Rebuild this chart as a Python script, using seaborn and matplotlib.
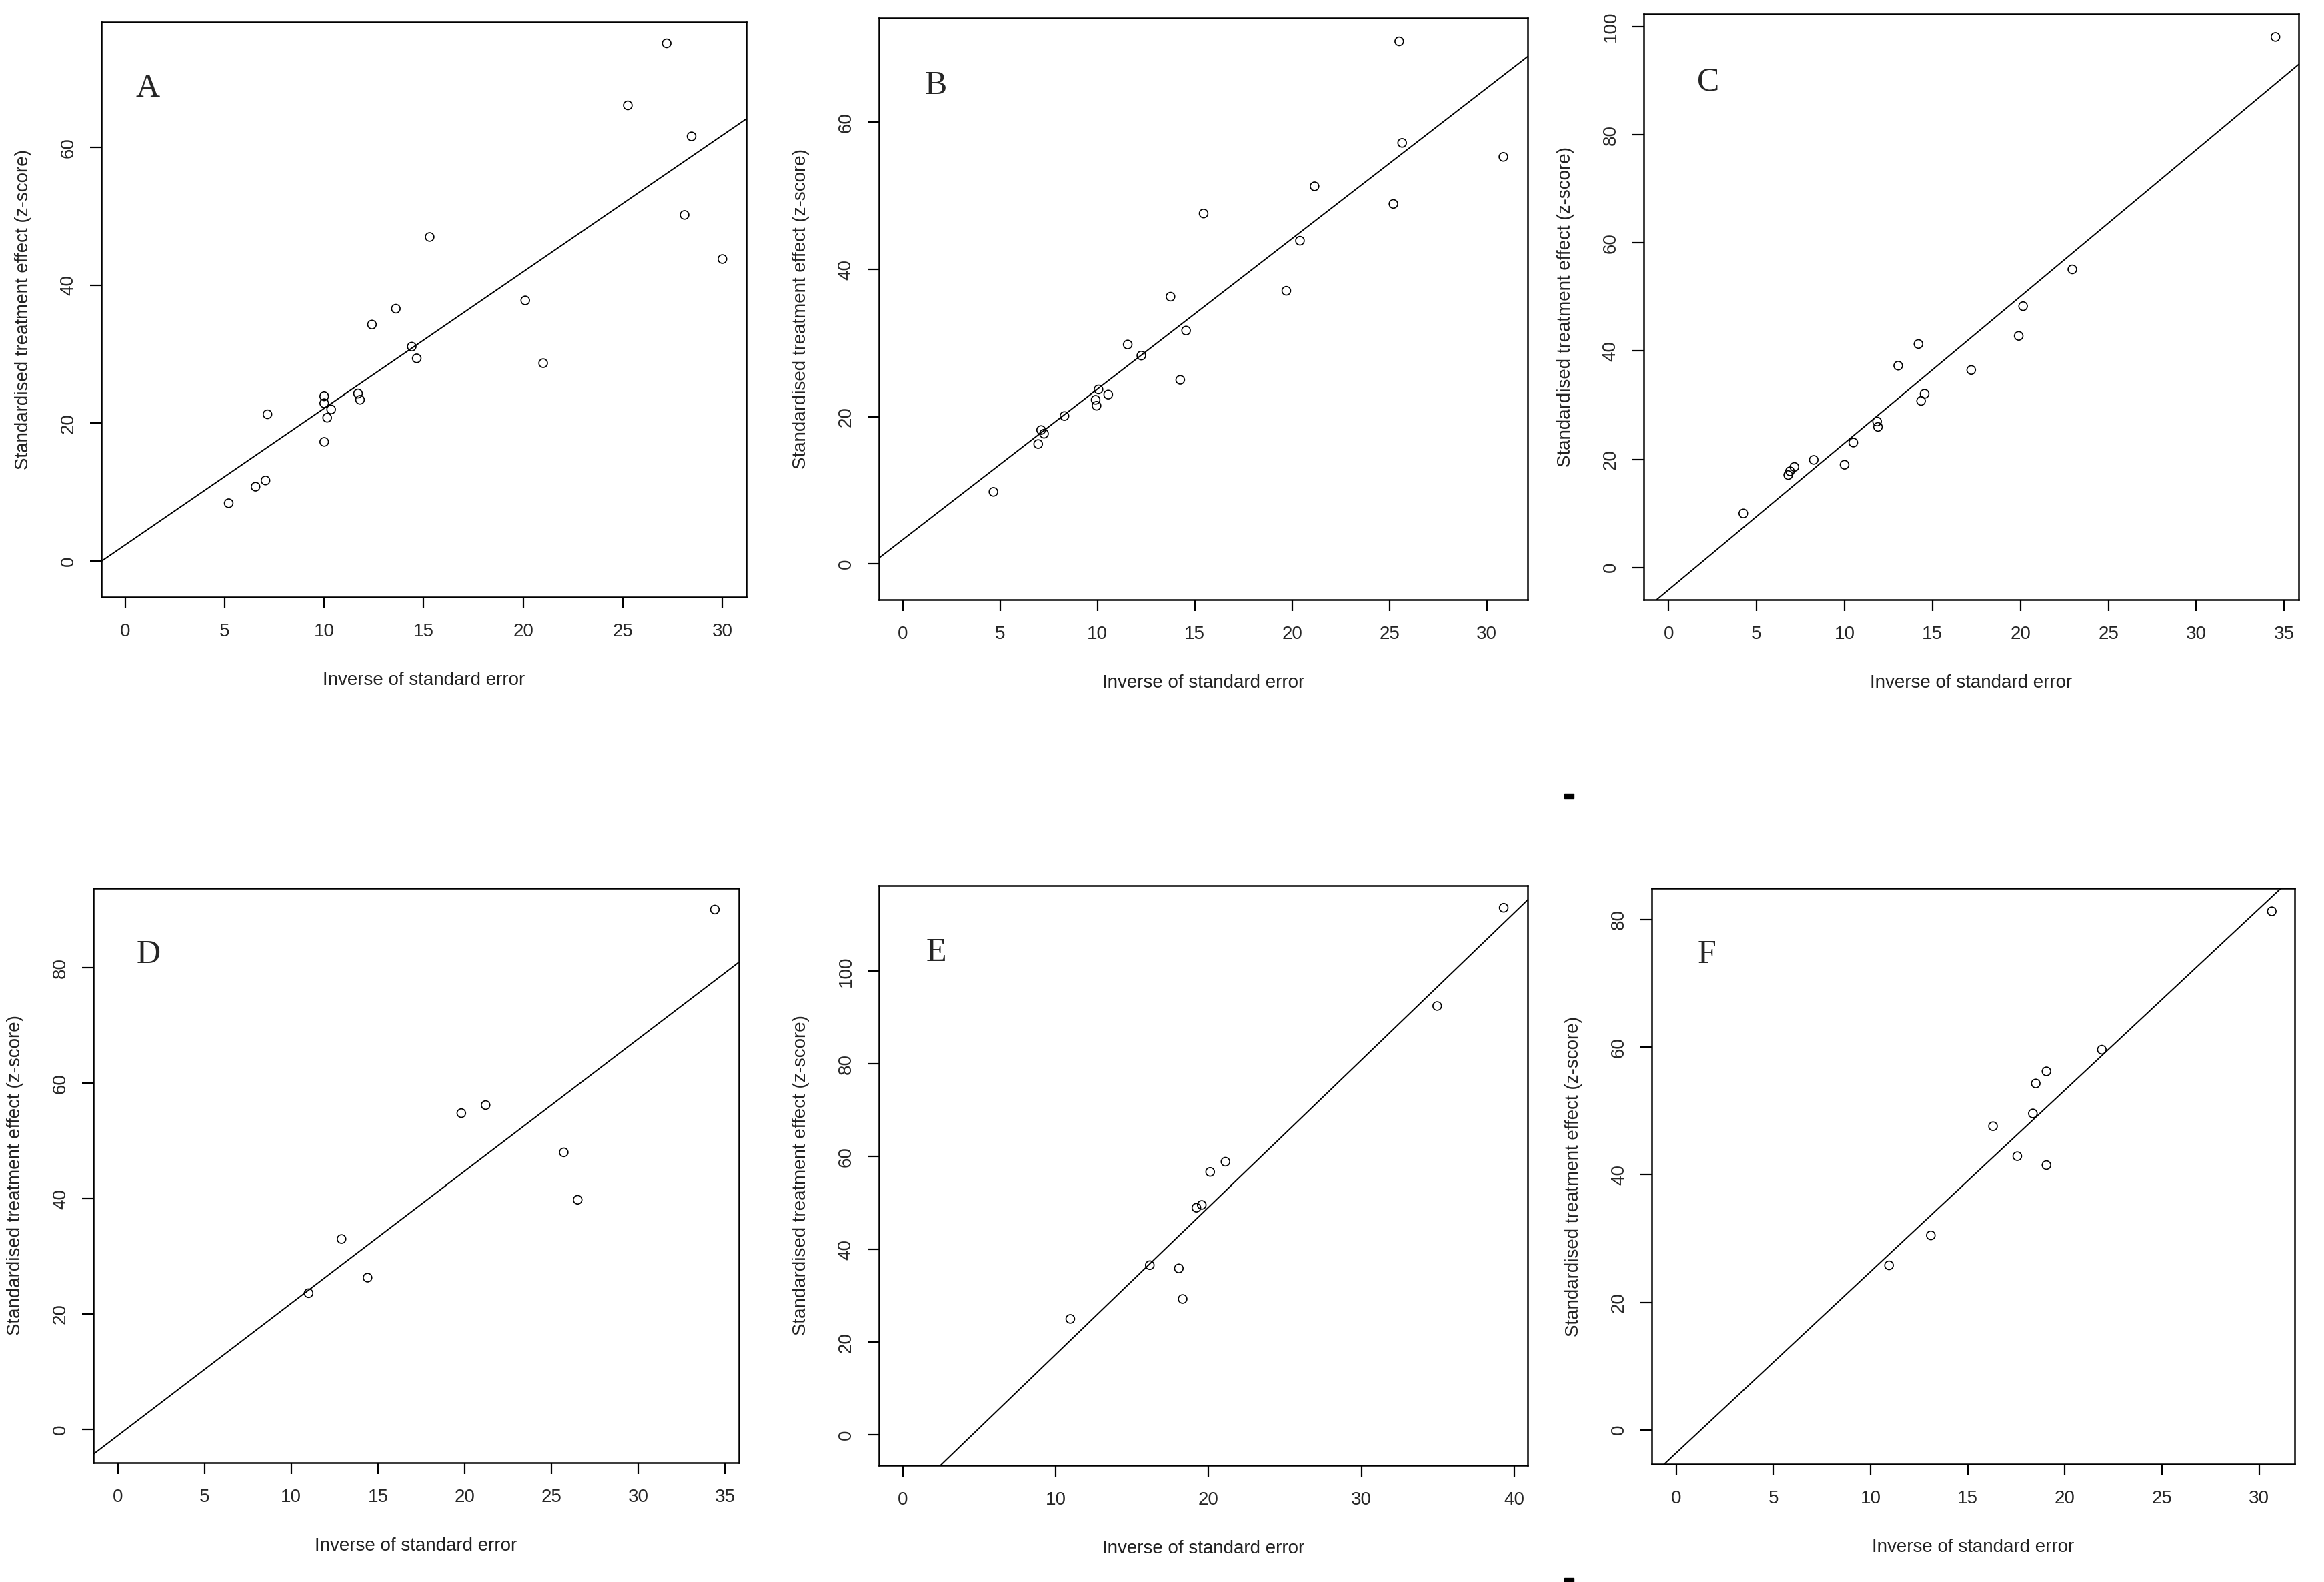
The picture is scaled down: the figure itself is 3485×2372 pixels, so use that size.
import seaborn as sns
import matplotlib.pyplot as plt
from matplotlib.patches import Rectangle

# values
panel_letters = ['A', 'B', 'C', 'D', 'E', 'F']

A_x = [27.2, 25.25, 28.45, 28.1, 30.0, 15.3, 20.1, 21.0, 13.6, 12.4, 14.4, 14.65,
       11.7, 11.8, 10.0, 10.0, 10.35, 10.15, 10.0, 7.15, 7.05, 6.55, 5.2]
A_y = [75.1, 66.1, 61.6, 50.2, 43.8, 47.0, 37.8, 28.7, 36.6, 34.3, 31.1, 29.4,
       24.3, 23.4, 23.9, 22.9, 22.0, 20.8, 17.3, 21.3, 11.7, 10.8, 8.4]

B_x = [25.5, 25.65, 30.85, 21.15, 25.2, 15.45, 20.4, 19.7, 13.75, 14.55, 11.55,
       12.25, 14.25, 10.05, 10.55, 9.9, 9.95, 8.3, 7.1, 7.25, 6.95, 4.65]
B_y = [71.0, 57.2, 55.3, 51.3, 48.9, 47.6, 43.9, 37.1, 36.3, 31.7, 29.8,
       28.3, 25.0, 23.7, 23.0, 22.3, 21.5, 20.1, 18.2, 17.7, 16.3, 9.8]

C_x = [34.5, 22.95, 20.15, 19.9, 14.2, 13.05, 17.2, 14.55, 14.35, 11.85, 11.9,
       10.5, 8.25, 10.0, 7.15, 6.9, 6.8, 4.25]
C_y = [98.1, 55.1, 48.3, 42.8, 41.3, 37.3, 36.5, 32.1, 30.8, 27.0, 26.0,
       23.1, 19.9, 19.0, 18.6, 17.8, 17.1, 10.0]

D_x = [34.4, 21.2, 19.8, 25.7, 26.5, 12.9, 14.4, 11.0]
D_y = [90.1, 56.2, 54.8, 48.0, 39.8, 33.0, 26.3, 23.6]

E_x = [39.3, 34.95, 21.1, 20.1, 19.55, 19.2, 16.15, 18.05, 18.3, 10.95]
E_y = [113.7, 92.5, 58.9, 56.7, 49.6, 49.0, 36.6, 35.9, 29.3, 25.0]

F_x = [30.65, 21.9, 19.05, 18.5, 18.35, 16.3, 17.55, 19.05, 13.1, 10.95]
F_y = [81.3, 59.6, 56.2, 54.3, 49.6, 47.6, 42.9, 41.5, 30.5, 25.8]

xs = [A_x, B_x, C_x, D_x, E_x, F_x]
ys = [A_y, B_y, C_y, D_y, E_y, F_y]

# fitted line (intercept, slope) as drawn in each panel
intercepts = [2.36, 3.32, -4.13, -1.09, -14.41, -3.63]
slopes = [1.98, 2.044, 2.712, 2.293, 3.176, 2.845]

x_ticks = [list(range(0, 31, 5)), list(range(0, 31, 5)), list(range(0, 36, 5)),
           list(range(0, 36, 5)), list(range(0, 41, 10)), list(range(0, 31, 5))]
y_ticks = [[0, 20, 40, 60], [0, 20, 40, 60], [0, 20, 40, 60, 80, 100],
           [0, 20, 40, 60, 80], [0, 20, 40, 60, 80, 100], [0, 20, 40, 60, 80]]

x_lims = [(-1.2, 31.2), (-1.24, 32.1), (-1.41, 35.82),
          (-1.40, 35.77), (-1.58, 40.87), (-1.25, 31.83)]
y_lims = [(-5.2, 78.2), (-4.85, 74.15), (-5.95, 102.3),
          (-5.78, 93.8), (-6.6, 118.5), (-5.37, 84.9)]

xlabel = 'Inverse of standard error'
ylabel = 'Standardised treatment effect (z-score)'

sns.set_style('ticks')
plt.rcParams['font.family'] = ['Liberation Sans', 'DejaVu Sans']

fig = plt.figure(figsize=(34.85, 23.72), dpi=100)
fig.patch.set_facecolor('white')

# axes boxes [left, bottom, width, height] in figure fractions
boxes = [[0.0436, 0.6227, 0.2775, 0.3634],
         [0.3781, 0.6210, 0.2793, 0.3675],
         [0.7073, 0.6210, 0.2818, 0.3700],
         [0.0402, 0.0755, 0.2776, 0.3630],
         [0.3781, 0.0738, 0.2793, 0.3664],
         [0.7108, 0.0746, 0.2766, 0.3638]]
letter_x = [0.072, 0.088, 0.098, 0.085, 0.089, 0.085]

for i in range(6):
    ax = fig.add_axes(boxes[i])
    sns.scatterplot(x=xs[i], y=ys[i], ax=ax, marker='o', s=85,
                    facecolor='none', edgecolor='black', linewidth=1.2, zorder=3)
    ax.axline((0, intercepts[i]), slope=slopes[i], color='black', lw=1.4)
    ax.set_xlim(*x_lims[i])
    ax.set_ylim(*y_lims[i])
    ax.set_xticks(x_ticks[i])
    ax.set_yticks(y_ticks[i])
    ax.set_yticklabels([str(v) for v in y_ticks[i]], rotation=90, va='center')
    ax.tick_params(axis='both', length=12, width=1.6, labelsize=20, color='black')
    ax.tick_params(axis='x', pad=16)
    ax.tick_params(axis='y', pad=14)
    for sp in ax.spines.values():
        sp.set_visible(True)
        sp.set_linewidth(1.8)
        sp.set_color('black')
    ax.set_xlabel(xlabel, fontsize=20, labelpad=34, color='#222222')
    ax.set_ylabel(ylabel, fontsize=20, labelpad=30, color='#222222')
    ax.text(letter_x[i], 0.87, panel_letters[i], transform=ax.transAxes,
            ha='center', va='baseline', fontsize=36, family='Liberation Serif')

# two small stray marks in the original figure
for yb in [1190, 2366]:
    fig.patches.append(Rectangle((2346 / 3485, 1 - (yb + 7) / 2372), 14 / 3485, 7 / 2372,
                                 transform=fig.transFigure, color='black'))

fig.savefig('out.png', dpi=100, facecolor='white')
